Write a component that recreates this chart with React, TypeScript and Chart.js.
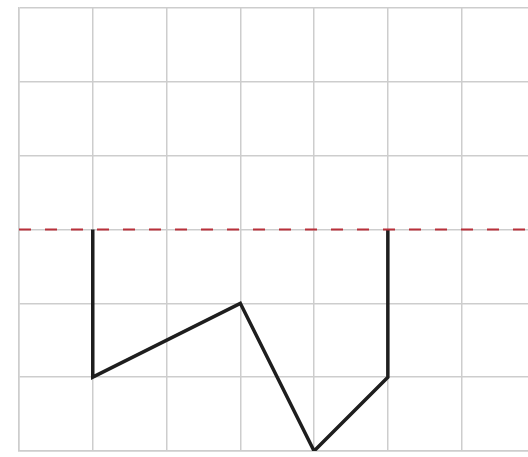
import React, { useEffect, useRef } from "react";
import { Chart, registerables } from "chart.js";

Chart.register(...registerables);

const pathX = [1, 1, 3, 4, 5, 5];
const pathY = [3, 1, 2, 0, 1, 3];
const refLevel = 3;
const xMin = 0;
const xMax = 6.9;
const yMin = 0;
const yMax = 6;

export default function App() {
  const ref = useRef<HTMLCanvasElement | null>(null);
  useEffect(() => {
    if (!ref.current) return;
    const grid = { color: "#cdcdcd", lineWidth: 1.5, drawTicks: false };
    const border = { color: "#cdcdcd", width: 1.5 };
    const chart = new Chart(ref.current, {
      type: "scatter",
      data: {
        datasets: [
          {
            data: [
              { x: xMin, y: refLevel },
              { x: xMax, y: refLevel },
            ],
            showLine: true,
            borderColor: "#b8303a",
            borderWidth: 2,
            borderDash: [12, 14],
            pointRadius: 0,
          },
          {
            data: pathX.map((x, i) => ({ x, y: pathY[i] })),
            showLine: true,
            borderColor: "#1e1e1e",
            borderWidth: 3.5,
            pointRadius: 0,
            borderJoinStyle: "miter",
          },
        ],
      },
      options: {
        animation: false,
        responsive: true,
        maintainAspectRatio: false,
        layout: { padding: { left: 19, top: 8, bottom: 6, right: 0 } },
        plugins: { legend: { display: false }, tooltip: { enabled: false } },
        scales: {
          x: {
            type: "linear",
            min: xMin,
            max: xMax,
            grid,
            border,
            ticks: { display: false, stepSize: 1 },
            afterBuildTicks: (s: any) => {
              s.ticks = s.ticks.filter((t: any) => Number.isInteger(t.value));
            },
          },
          y: {
            type: "linear",
            min: yMin,
            max: yMax,
            grid,
            border,
            ticks: { display: false, stepSize: 1 },
          },
        },
      },
    } as any);
    return () => chart.destroy();
  }, []);
  return (
    <div style={{ position: "absolute", left: 0, top: 0, width: 528, height: 457, background: "#fff" }}>
      <canvas ref={ref} />
    </div>
  );
}
